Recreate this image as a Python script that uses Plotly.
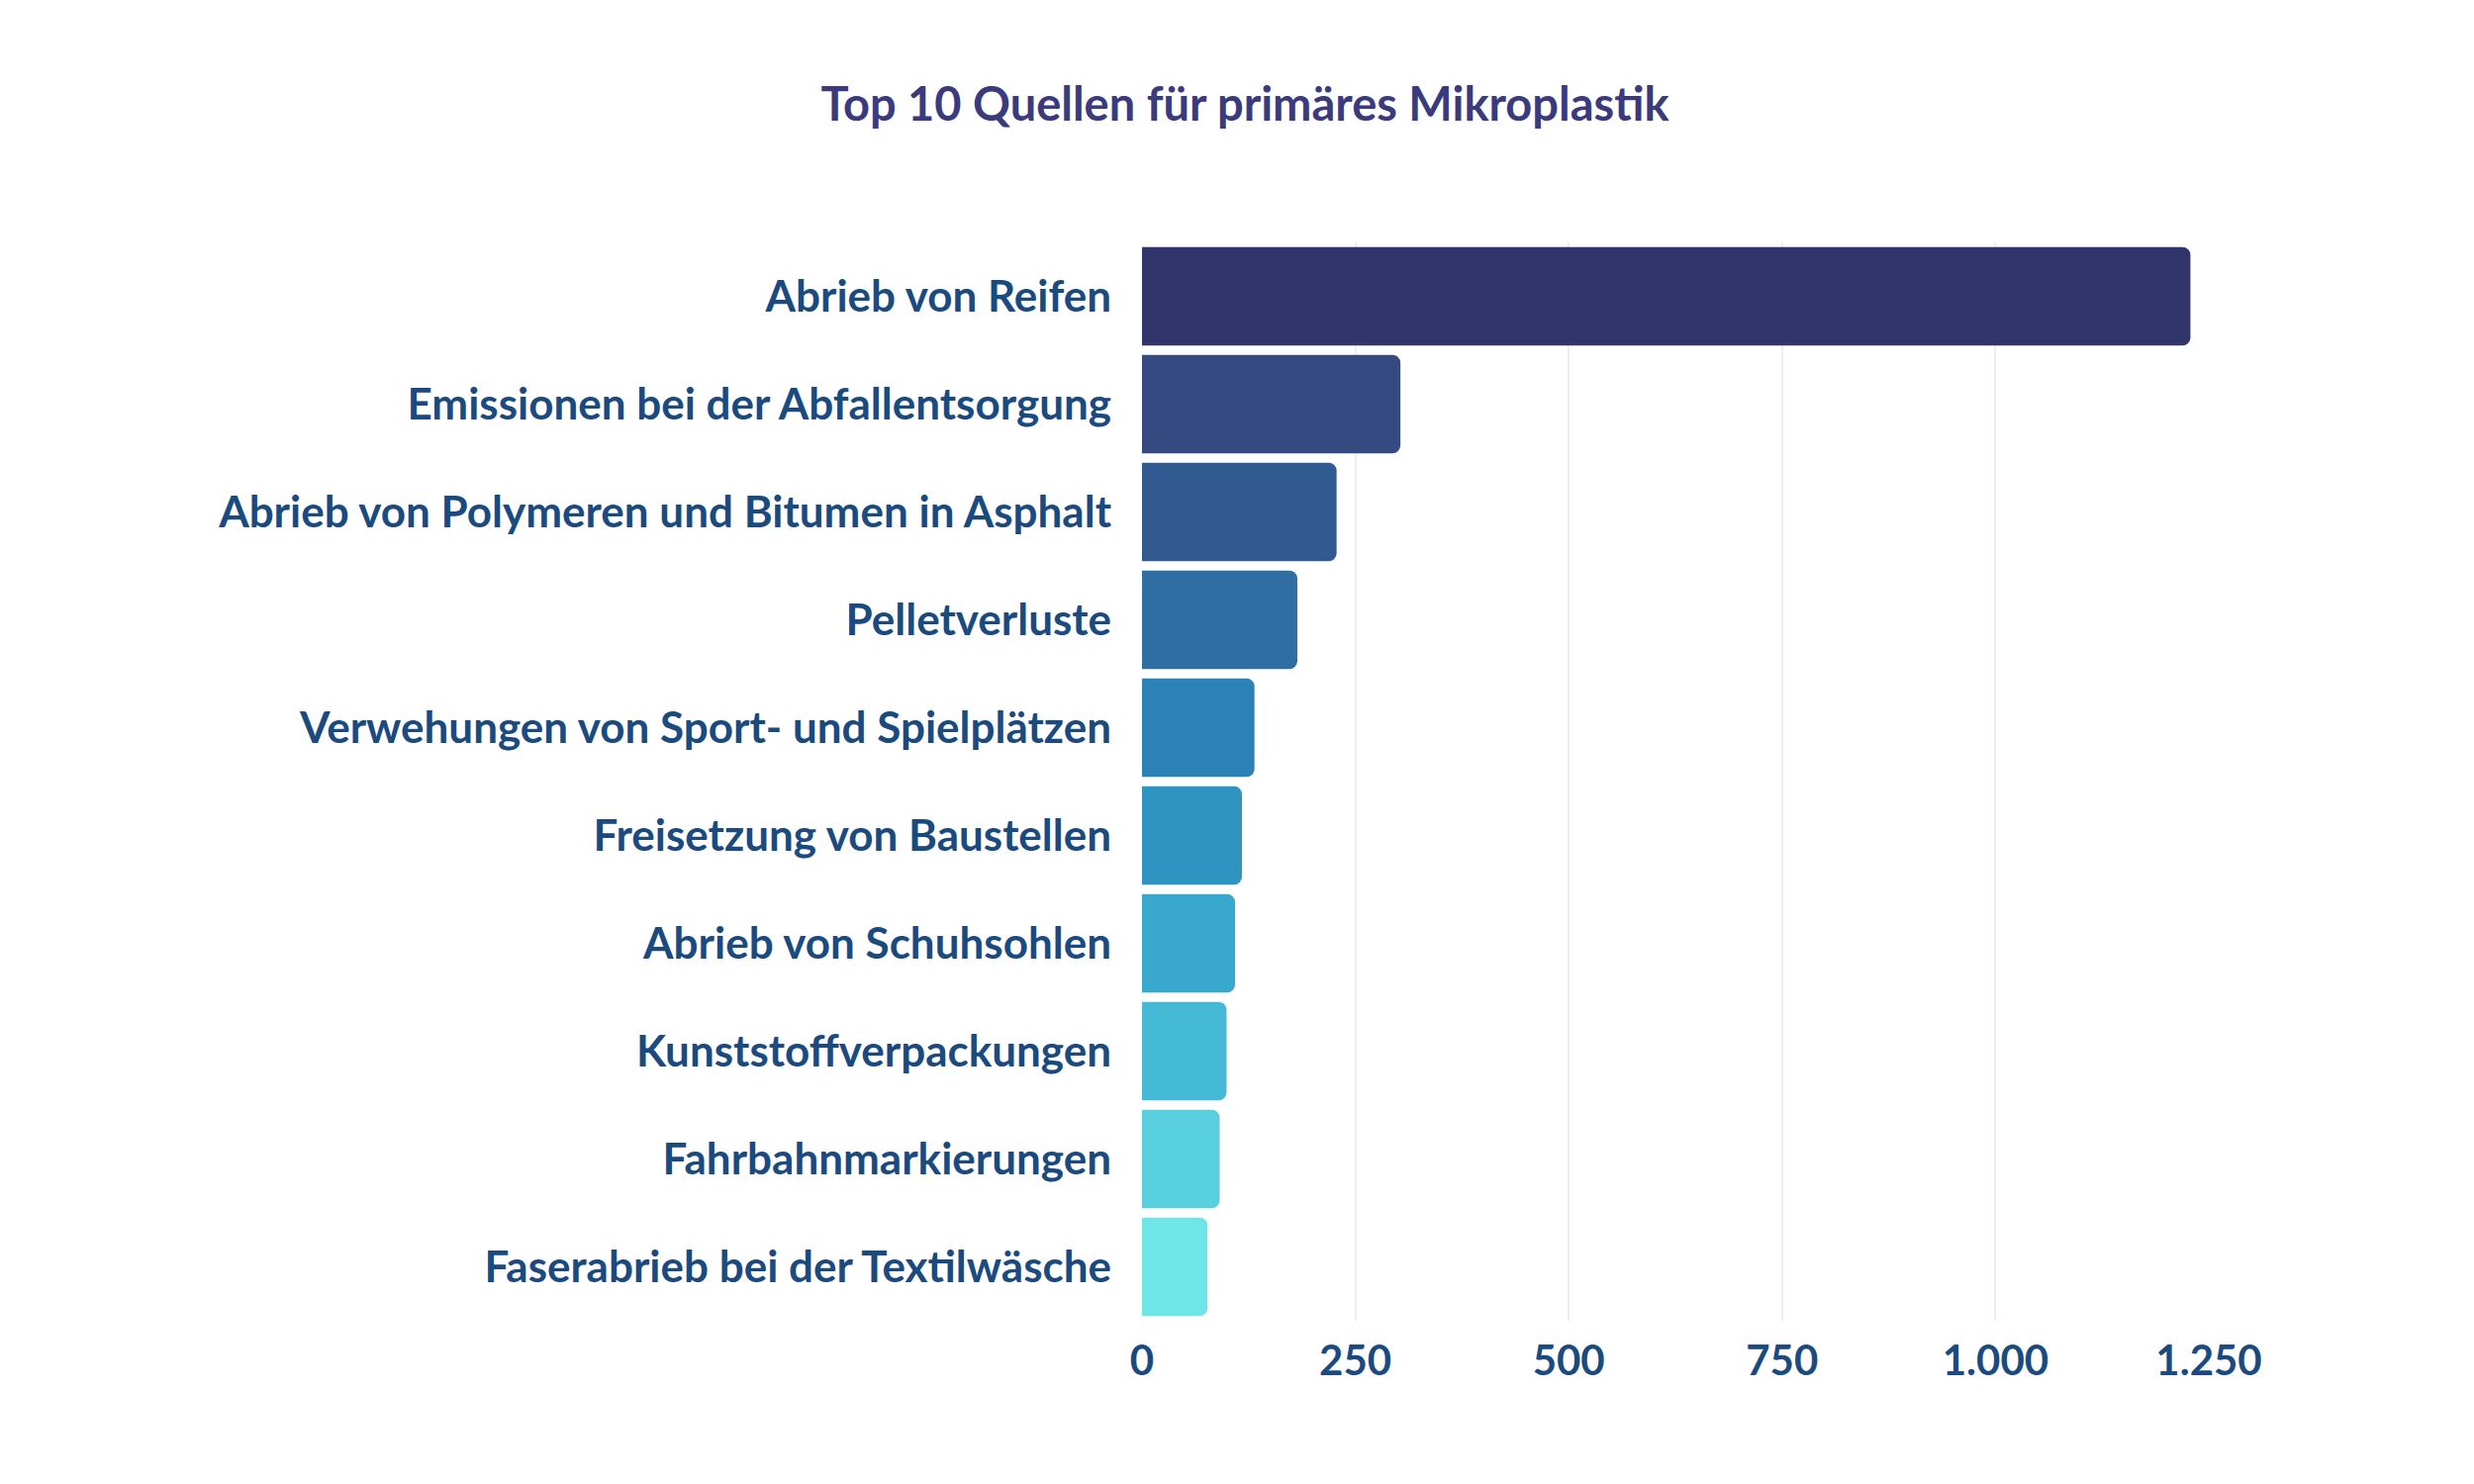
import plotly.graph_objects as go

# Top 10 sources of primary microplastics (g per capita and year)
sources = [
    "Abrieb von Reifen",
    "Emissionen bei der Abfallentsorgung",
    "Abrieb von Polymeren und Bitumen in Asphalt",
    "Pelletverluste",
    "Verwehungen von Sport- und Spielplätzen",
    "Freisetzung von Baustellen",
    "Abrieb von Schuhsohlen",
    "Kunststoffverpackungen",
    "Fahrbahnmarkierungen",
    "Faserabrieb bei der Textilwäsche",
]
grams = [1228.5, 302.8, 228.0, 182.0, 131.8, 117.1, 109.0, 99.1, 91.0, 76.8]
bar_colors = [
    "#32356c", "#344a80", "#315a90", "#2e6ea2", "#2c82b7",
    "#2e94c1", "#38a8cc", "#44bad6", "#57cfdf", "#6ee6e8",
]
x_ticks = [0, 250, 500, 750, 1000, 1250]

TITLE = "#3a3a7c"
LABEL = "#1b4a7e"
GRID = "#eceef2"
FONT = "Lato, 'Open Sans', sans-serif"

fig = go.Figure(
    go.Bar(
        x=grams,
        y=sources,
        orientation="h",
        marker={"color": bar_colors, "cornerradius": 8, "line": {"width": 0}},
        hoverinfo="x+y",
    )
)

fig.update_layout(
    width=2500,
    height=1500,
    paper_bgcolor="#ffffff",
    plot_bgcolor="#ffffff",
    separators=",.",
    bargap=0.085,
    showlegend=False,
    font={"family": FONT, "color": LABEL},
    title={
        "text": "<b>Top 10 Quellen für primäres Mikroplastik</b>",
        "x": 0.5,
        "xanchor": "center",
        "y": 0.935,
        "yanchor": "middle",
        "font": {"size": 47, "color": TITLE, "family": FONT},
    },
    margin={"t": 237, "b": 173, "l": 1146, "r": 276},
)

fig.update_xaxes(
    range=[0, 1250],
    tickvals=x_ticks,
    tickformat=",d",
    showgrid=True,
    gridcolor=GRID,
    gridwidth=1.5,
    zeroline=False,
    showline=False,
    ticks="",
    ticklabelstandoff=12,
    tickfont={"size": 42, "color": LABEL, "family": FONT, "weight": "bold"},
)
fig.update_yaxes(
    autorange="reversed",
    showgrid=False,
    zeroline=False,
    showline=False,
    ticks="",
    ticklabelstandoff=30,
    tickfont={"size": 44, "color": LABEL, "family": FONT, "weight": "bold"},
)

fig.write_html("out.html")
